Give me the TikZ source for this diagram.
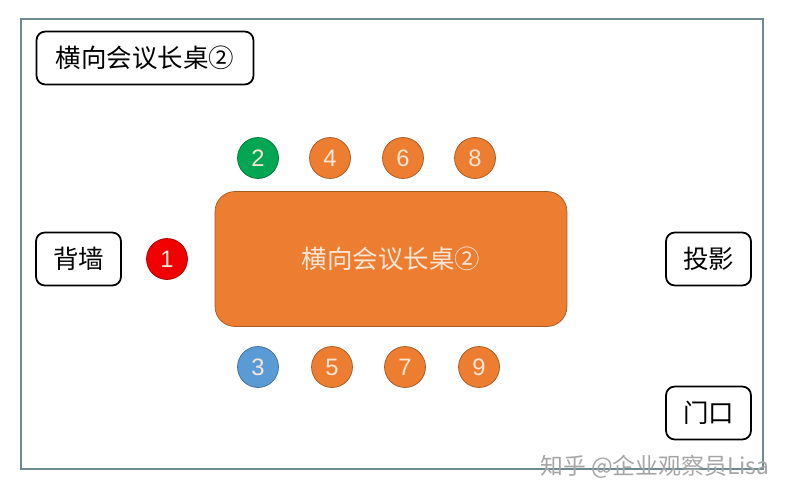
\documentclass[tikz,border=0pt]{standalone}
\usepackage{fontspec}
\setmainfont{Liberation Sans}
\newfontfamily\cjk{Noto Sans CJK SC}
\definecolor{seatorange}{HTML}{ED7D31}
\definecolor{seatgreen}{HTML}{00A651}
\definecolor{seatred}{HTML}{F00000}
\definecolor{seatblue}{HTML}{5B9BD5}
\definecolor{framecol}{HTML}{6E8A8F}
\definecolor{paletext}{HTML}{FBE6D6}

\begin{document}
\begin{tikzpicture}[x=0.02cm, y=-0.02cm,
  labelbox/.style={draw, line width=1pt, rounded corners=5pt, inner sep=0pt,
    minimum height=1.06cm, font=\cjk\fontsize{14.5}{14.5}\selectfont},
  seat/.style={circle, draw=#1!70!black, fill=#1, minimum size=0.82cm, inner sep=0pt,
    text=paletext, font=\fontsize{13.5}{13.5}\selectfont}]
\useasboundingbox (0, 0) rectangle (791, 500);
\draw[framecol, line width=0.6pt] (21, 19) rectangle (763, 469);
\node[labelbox, minimum width=4.34cm] (title) at (145, 58) {横向会议长桌②};
\node[labelbox, minimum width=1.7cm] (wall) at (78.5, 259) {背墙};
\node[labelbox, minimum width=1.7cm] (screen) at (708.5, 259) {投影};
\node[labelbox, minimum width=1.7cm] (door) at (708.5, 413) {门口};
\node[draw=seatorange!70!black, fill=seatorange, rounded corners=0.4cm, minimum width=7.04cm,
  minimum height=2.7cm, text=paletext, font=\cjk\fontsize{14.5}{14.5}\selectfont] (table) at (391, 259) {横向会议长桌②};
\node[seat=seatred] (s1) at (167, 259) {1};
\node[seat=seatgreen] (s2) at (258, 158) {2};
\node[seat=seatblue] (s3) at (258, 367) {3};
\node[seat=seatorange] (s4) at (330, 158) {4};
\node[seat=seatorange] (s5) at (332, 367) {5};
\node[seat=seatorange] (s6) at (403, 158) {6};
\node[seat=seatorange] (s7) at (405, 367) {7};
\node[seat=seatorange] (s8) at (475, 158) {8};
\node[seat=seatorange] (s9) at (479, 367) {9};
\node[gray!70, font=\cjk\fontsize{13}{13}\selectfont] (mark) at (655, 467) {知乎 @企业观察员Lisa};
\end{tikzpicture}
\end{document}
